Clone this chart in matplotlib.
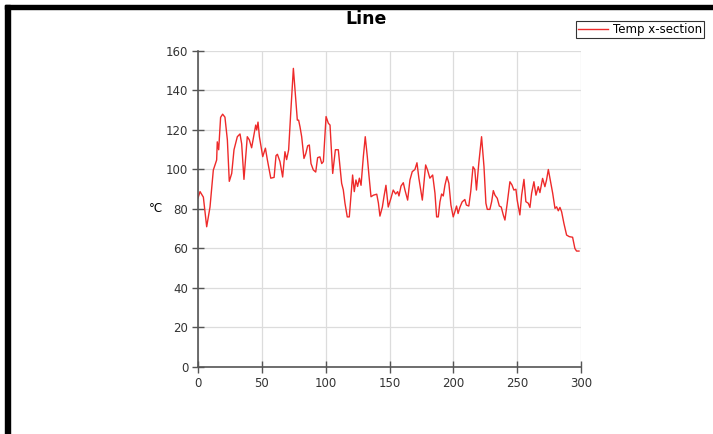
import matplotlib.pyplot as plt
from matplotlib.patches import Rectangle

# Data
pos = [0, 1.6, 4.2, 6.8, 9.4, 12.0, 14.6, 15.1, 16.2, 17.7, 19.3, 21.1, 23.0, 24.5,
       26.4, 28.2, 30.8, 32.9, 34.2, 36.0, 38.6, 40.2, 42.0, 43.9, 45.2, 46.0, 47.0,
       48.1, 50.7, 52.8, 54.3, 57.0, 59.6, 61.1, 62.2, 64.2, 66.3, 68.1, 69.4, 71.0,
       72.6, 74.7, 75.9, 77.8, 78.8, 79.9, 81.2, 83.0, 84.4, 85.9, 87.2, 88.5, 90.3,
       92.2, 93.7, 95.5, 96.9, 98.2, 100.3, 102.1, 103.4, 105.5, 107.6, 109.9,
       112.5, 113.8, 115.1, 116.9, 118.5, 121.1, 122.4, 123.7, 125.0, 126.4, 127.7,
       129.5, 131.0, 132.6, 133.9, 135.5, 137.4, 140.0, 141.3, 142.5, 144.4, 145.6,
       147.2, 149.0, 151.1, 152.9, 154.8, 156.4, 157.4, 159.0, 160.8, 162.1, 164.2,
       166.0, 167.8, 169.9, 171.5, 173.0, 175.7, 178.3, 179.8, 181.6, 183.8, 185.6,
       186.9, 188.2, 189.5, 190.8, 192.1, 193.4, 195.0, 196.5, 198.1, 199.9, 201.2,
       202.5, 203.7, 205.1, 206.9, 209.0, 210.2, 212.1, 213.6, 215.4, 216.8, 218.1,
       219.9, 222.1, 224.0, 225.5, 226.6, 228.6, 230.0, 231.3, 232.6, 234.4, 236.0,
       237.5, 239.1, 240.4, 242.2, 244.3, 245.9, 247.4, 249.0, 250.0, 252.1, 253.5,
       255.3, 256.8, 258.7, 260.0, 261.3, 263.1, 264.7, 266.5, 267.8, 269.9, 271.7,
       273.0, 274.4, 275.7, 277.8, 279.6, 280.9, 282.2, 283.5, 284.8, 286.6, 288.7,
       290.8, 293.4, 295.2, 296.5, 298.4]
temp = [85.6, 88.8, 86, 71, 81, 99.7, 104.8, 114, 110, 126.4, 128, 126.5, 115, 94,
        98, 110, 116.6, 118, 113, 95, 116.6, 115, 111, 118, 122.5, 120, 124,
        116.6, 106.5, 110.8, 105, 95.6, 96, 107, 107.7, 104, 96.2, 109, 105, 110,
        128.4, 151.2, 141, 125, 125, 121.6, 116.6, 105.6, 108, 112, 112.4, 103, 99.8,
        98.7, 106, 106.4, 103, 104, 126.8, 123.4, 122.5, 98, 110, 110,
        93, 89.7, 83, 76, 76, 97.2, 88.8, 94.7, 91.4, 95.6, 92,
        106.5, 116.6, 106.5, 97, 86.2, 87, 87.5, 83, 76.4, 81, 86,
        92, 81, 85.4, 89.6, 87.6, 88.8, 86.6, 91.6, 93.3, 89.6, 84.5,
        94.7, 98.9, 100, 103.4, 95.6, 84.5, 102.3, 99.7, 95.6, 97.2, 88,
        76, 76, 83.6, 87.6, 86.6, 92, 96.4, 93, 82, 76, 78.6,
        81.5, 77.7, 80.8, 83.6, 84.8, 82, 81.5, 88.8, 101.4, 100, 89.6,
        103, 116.6, 101.4, 82.9, 79.8, 79.8, 83.7, 89.3, 87, 85.4, 81.5,
        81, 77, 74.4, 82.9, 93.8, 92.2, 89.6, 90, 84.5, 77, 87,
        95, 83.7, 82.9, 80.8, 88, 93.8, 87, 91.3, 88.3, 95.5, 91.3,
        94.7, 100, 95.5, 88, 80.3, 81.1, 79.1, 80.8, 78.6, 72.7, 66.8,
        66, 65.7, 60, 58.7, 58.7]
x_ticks = [0, 50, 100, 150, 200, 250, 300]
y_ticks = [0, 20, 40, 60, 80, 100, 120, 140, 160]

fig = plt.figure(figsize=(7.13, 4.34), dpi=100)
ax = fig.add_axes([0.2777, 0.1544, 0.5372, 0.7281])

ax.plot(pos, temp, color='#ee2a2a', linewidth=1.0, label='Temp x-section')

ax.set_xlim(0, 300)
ax.set_ylim(0, 160)
ax.set_xticks(x_ticks)
ax.set_yticks(y_ticks)
ax.grid(True, color='#dcdcdc', linewidth=0.9)
ax.set_axisbelow(True)
for s in ['top', 'right']:
    ax.spines[s].set_visible(False)
for s in ['left', 'bottom']:
    ax.spines[s].set_color('#555555')
    ax.spines[s].set_linewidth(1.2)
ax.tick_params(direction='inout', length=8, width=1, color='#555555',
               labelsize=8.5, labelcolor='#333333', pad=3)
ax.set_ylabel('°C', rotation=0, fontsize=8.5, labelpad=7, va='center')

fig.text(366 / 713, 1 - 19 / 434, 'Line', ha='center', va='center',
         fontsize=12.5, fontweight='bold')

leg = fig.legend(loc='upper right', bbox_to_anchor=(704 / 713, 1 - 21 / 434),
                 fontsize=8.5, frameon=True, fancybox=False, handlelength=2.6,
                 borderpad=0.15, handletextpad=0.4, borderaxespad=0)
leg.get_frame().set_edgecolor('black')
leg.get_frame().set_linewidth(0.8)

# black frame on the left and top edges
fig.patches.append(Rectangle((5 / 713, 0), 5 / 713, 1 - 5 / 434,
                             transform=fig.transFigure, color='black'))
fig.patches.append(Rectangle((5 / 713, 1 - 9 / 434), 1, 4 / 434,
                             transform=fig.transFigure, color='black'))

fig.savefig('out.png', dpi=100)
